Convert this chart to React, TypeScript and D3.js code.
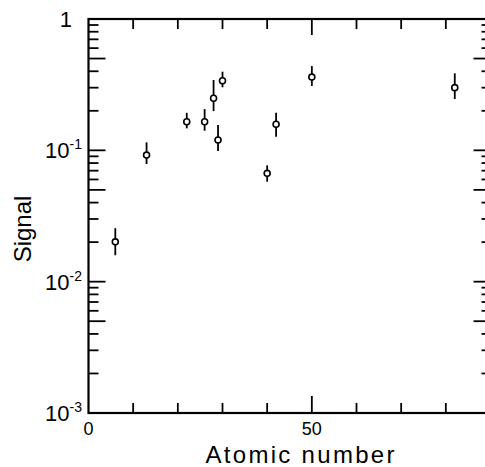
import * as d3 from 'd3';
import React, { useEffect, useRef } from 'react';

// atomic number of each target, signal and error bar ends
const atomicNumber = [6, 13, 22, 26, 28, 29, 30, 40, 42, 50, 82];
const signal = [0.0201, 0.092, 0.165, 0.165, 0.249, 0.12, 0.339, 0.0668, 0.158, 0.361, 0.3];
const errHigh = [0.0255, 0.115, 0.193, 0.206, 0.343, 0.156, 0.397, 0.0769, 0.193, 0.438, 0.386];
const errLow = [0.0159, 0.0787, 0.147, 0.141, 0.199, 0.099, 0.302, 0.0577, 0.127, 0.309, 0.246];

const xTicks = [0, 10, 20, 30, 40, 50, 60, 70, 80];
const xLabels = [0, 50];
const yDecades = [1e-3, 1e-2, 1e-1, 1];
const yLabels = [
  { v: 1e-3, exp: '-3' },
  { v: 1e-2, exp: '-2' },
  { v: 1e-1, exp: '-1' },
];

const W = 485;
const H = 467;
const FONT = '"Liberation Sans", Arial, sans-serif';

function Chart() {
  const ref = useRef<SVGSVGElement>(null);

  useEffect(() => {
    const svg = d3.select(ref.current);
    svg.selectAll('*').remove();

    const x = d3.scaleLinear().domain([0, 90]).range([88.5, 490.5]);
    const y = d3.scaleLog().domain([1e-3, 1]).range([413, 19]);

    const left = x(0);
    const right = x(90);
    const top = y(1);
    const bottom = y(1e-3);

    const g = svg.append('g');

    // minor ticks of the log axis: 2..9 in every decade
    const minor: { v: number; long: boolean }[] = [];
    yDecades.slice(0, 3).forEach((d) => {
      for (let k = 2; k <= 9; k++) minor.push({ v: d * k, long: k === 5 });
    });
    const allY = minor.concat(yDecades.map((v) => ({ v, long: true })));

    // left ticks
    g.selectAll('.ytl')
      .data(allY)
      .enter()
      .append('line')
      .attr('x1', left)
      .attr('x2', (d) => left + (d.long ? 17 : 10))
      .attr('y1', (d) => y(d.v))
      .attr('y2', (d) => y(d.v))
      .attr('stroke', 'black')
      .attr('stroke-width', 1.8);

    // right ticks
    g.selectAll('.ytr')
      .data(allY)
      .enter()
      .append('line')
      .attr('x1', right)
      .attr('x2', (d) => right - (d.long ? 17 : 9))
      .attr('y1', (d) => y(d.v))
      .attr('y2', (d) => y(d.v))
      .attr('stroke', 'black')
      .attr('stroke-width', 1.8);

    // bottom and top ticks
    g.selectAll('.xtb')
      .data(xTicks.slice(1))
      .enter()
      .append('line')
      .attr('x1', (d) => x(d))
      .attr('x2', (d) => x(d))
      .attr('y1', bottom)
      .attr('y2', (d) => bottom - (d === 50 ? 17 : 10))
      .attr('stroke', 'black')
      .attr('stroke-width', 1.8);

    g.selectAll('.xtt')
      .data(xTicks.slice(1))
      .enter()
      .append('line')
      .attr('x1', (d) => x(d))
      .attr('x2', (d) => x(d))
      .attr('y1', top)
      .attr('y2', (d) => top + (d === 50 ? 16 : 10))
      .attr('stroke', 'black')
      .attr('stroke-width', 1.8);

    // frame
    g.append('rect')
      .attr('x', left)
      .attr('y', top)
      .attr('width', right - left)
      .attr('height', bottom - top)
      .attr('fill', 'none')
      .attr('stroke', 'black')
      .attr('stroke-width', 2.2);

    // x tick labels
    g.selectAll('.xl')
      .data(xLabels)
      .enter()
      .append('text')
      .attr('x', (d) => x(d))
      .attr('y', 435)
      .attr('text-anchor', 'middle')
      .attr('font-family', FONT)
      .attr('font-size', 18)
      .attr('fill', 'black')
      .text((d) => d);

    // y tick labels
    g.append('text')
      .attr('x', 72)
      .attr('y', top + 8)
      .attr('text-anchor', 'end')
      .attr('font-family', FONT)
      .attr('font-size', 22)
      .attr('fill', 'black')
      .text('1');

    const yl = g.selectAll('.yl')
      .data(yLabels)
      .enter()
      .append('text')
      .attr('x', 45)
      .attr('y', (d) => y(d.v) + 8)
      .attr('font-family', FONT)
      .attr('font-size', 22)
      .attr('fill', 'black');
    yl.append('tspan').text('10');
    yl.append('tspan')
      .attr('dy', -9)
      .attr('font-size', 14)
      .text((d) => d.exp);

    // axis titles
    g.append('text')
      .attr('x', 300)
      .attr('y', 463)
      .attr('text-anchor', 'middle')
      .attr('font-family', FONT)
      .attr('font-size', 24)
      .attr('textLength', 189)
      .attr('lengthAdjust', 'spacing')
      .attr('fill', 'black')
      .text('Atomic number');

    g.append('text')
      .attr('text-anchor', 'middle')
      .attr('font-family', FONT)
      .attr('font-size', 24)
      .attr('fill', 'black')
      .attr('transform', `translate(31,229)rotate(-90)`)
      .text('Signal');

    // error bars and points
    const pts = atomicNumber.map((z, i) => ({
      z, s: signal[i], hi: errHigh[i], lo: errLow[i],
    }));

    g.selectAll('.err')
      .data(pts)
      .enter()
      .append('line')
      .attr('x1', (d) => x(d.z))
      .attr('x2', (d) => x(d.z))
      .attr('y1', (d) => y(d.hi))
      .attr('y2', (d) => y(d.lo))
      .attr('stroke', 'black')
      .attr('stroke-width', 1.8);

    g.selectAll('.pt')
      .data(pts)
      .enter()
      .append('circle')
      .attr('cx', (d) => x(d.z))
      .attr('cy', (d) => y(d.s))
      .attr('r', 3)
      .attr('fill', 'white')
      .attr('stroke', 'black')
      .attr('stroke-width', 1.6);
  }, []);

  return (
    <svg
      ref={ref}
      width={W}
      height={H}
      style={{ position: 'absolute', left: 0, top: 0, background: 'white' }}
    />
  );
}

export default function App() {
  return <Chart />;
}
